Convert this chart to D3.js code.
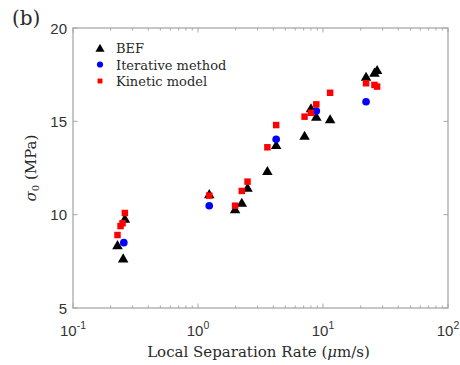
<!DOCTYPE html>
<html>
<head>
<meta charset="utf-8">
<script src="https://cdn.jsdelivr.net/npm/d3@7"></script>
<style>
  body { margin: 0; background: #fff; }
  svg { display: block; }
  .tick-label { font-family: "Liberation Sans", Arial, sans-serif; font-size: 15px; fill: #333; }
  .serif { font-family: "DejaVu Serif", "Liberation Serif", serif; fill: #2a2a2a; }
</style>
</head>
<body>
<svg id="chart"></svg>
<script>
// BEF (black triangles)
const befRate = [0.227, 0.252, 0.260, 1.23, 1.98, 2.24, 2.49, 3.59, 4.22, 7.12, 8.01, 8.84, 11.4, 22.1, 25.8, 27.1];
const befStress = [8.37, 7.66, 9.79, 11.1, 10.29, 10.64, 11.44, 12.34, 13.73, 14.23, 15.70, 15.25, 15.11, 17.39, 17.61, 17.75];

// Iterative method (blue circles)
const iterRate = [0.255, 1.23, 4.22, 8.84, 22.1];
const iterStress = [8.50, 10.48, 14.04, 15.55, 16.05];

// Kinetic model (red squares)
const kinRate = [0.227, 0.240, 0.249, 0.260, 1.23, 1.98, 2.24, 2.49, 3.59, 4.22, 7.12, 8.01, 8.84, 11.4, 22.1, 25.8, 27.1];
const kinStress = [8.91, 9.39, 9.54, 10.09, 11.02, 10.48, 11.27, 11.77, 13.61, 14.80, 15.25, 15.46, 15.91, 16.53, 17.04, 16.95, 16.86];

const xTicks = [0.1, 1, 10, 100];
const xTickExp = ['-1', '0', '1', '2'];
const yTicks = [5, 10, 15, 20];

const legendNames = ['BEF', 'Iterative method', 'Kinetic model'];

const width = 460, height = 365;
const margin = { top: 28, right: 12, bottom: 57, left: 73 };
const innerW = width - margin.left - margin.right;
const innerH = height - margin.top - margin.bottom;
const axisColor = '#a8a8a8';

const svg = d3.select('#chart').attr('width', width).attr('height', height);
const g = svg.append('g').attr('transform', `translate(${margin.left},${margin.top})`);

const x = d3.scaleLog().domain([0.1, 100]).range([0, innerW]);
const y = d3.scaleLinear().domain([5, 20]).range([innerH, 0]);

// frame
g.append('rect')
  .attr('width', innerW).attr('height', innerH)
  .attr('fill', 'none').attr('stroke', axisColor).attr('stroke-width', 1.3);

// x ticks (major + minor), bottom and top, inward
const minorX = [];
for (let d = 0.1; d < 100; d *= 10) {
  for (let k = 2; k <= 9; k++) minorX.push(+(d * k).toPrecision(3));
}
[innerH, 0].forEach(y0 => {
  const dir = y0 === 0 ? 1 : -1;
  g.append('g').selectAll('line.minor')
    .data(minorX).enter().append('line')
    .attr('x1', d => x(d)).attr('x2', d => x(d))
    .attr('y1', y0).attr('y2', y0 + dir * 2.5)
    .attr('stroke', axisColor);
  g.append('g').selectAll('line.major')
    .data(xTicks).enter().append('line')
    .attr('x1', d => x(d)).attr('x2', d => x(d))
    .attr('y1', y0).attr('y2', y0 + dir * 4.5)
    .attr('stroke', axisColor);
});

// y ticks left and right, inward
[0, innerW].forEach(x0 => {
  const dir = x0 === 0 ? 1 : -1;
  g.append('g').selectAll('line')
    .data(yTicks).enter().append('line')
    .attr('x1', x0).attr('x2', x0 + dir * 4.5)
    .attr('y1', d => y(d)).attr('y2', d => y(d))
    .attr('stroke', axisColor);
});

// x tick labels
const xl = g.append('g').selectAll('text')
  .data(xTicks).enter().append('text')
  .attr('class', 'tick-label')
  .attr('x', d => x(d))
  .attr('y', innerH + 28)
  .attr('text-anchor', 'middle');
xl.append('tspan').text('10');
xl.append('tspan')
  .attr('dy', -7).attr('font-size', 10.5)
  .text((d, i) => xTickExp[i]);

// y tick labels
g.append('g').selectAll('text')
  .data(yTicks).enter().append('text')
  .attr('class', 'tick-label')
  .attr('x', -6)
  .attr('y', d => y(d) + 5.5)
  .attr('text-anchor', 'end')
  .text(d => d);

// axis titles
const xt = g.append('text')
  .attr('class', 'serif')
  .attr('x', innerW / 2 - 2)
  .attr('y', innerH + 49)
  .attr('text-anchor', 'middle')
  .attr('font-size', 15);
xt.append('tspan').text('Local Separation Rate (');
xt.append('tspan').attr('font-style', 'italic').text('μ');
xt.append('tspan').text('m/s)');

const yt = g.append('text')
  .attr('class', 'serif')
  .attr('transform', `translate(-37,${innerH / 2}) rotate(-90)`)
  .attr('text-anchor', 'middle')
  .attr('font-size', 15);
yt.append('tspan').attr('font-style', 'italic').text('σ');
yt.append('tspan').attr('font-size', 10).attr('dy', 3).text('0');
yt.append('tspan').attr('dy', -3).text(' (MPa)');

// panel label
svg.append('text')
  .attr('class', 'serif')
  .attr('x', 12).attr('y', 25)
  .attr('font-size', 20)
  .text('(b)');

// markers
const tri = d3.symbol().type(d3.symbolTriangle).size(48);
const circ = d3.symbol().type(d3.symbolCircle).size(46);
const sq = d3.symbol().type(d3.symbolSquare).size(42);

g.append('g').selectAll('path')
  .data(befRate.map((r, i) => [r, befStress[i]]))
  .enter().append('path')
  .attr('d', tri)
  .attr('transform', d => `translate(${x(d[0])},${y(d[1]) + 1})`)
  .attr('fill', '#000');

g.append('g').selectAll('path')
  .data(iterRate.map((r, i) => [r, iterStress[i]]))
  .enter().append('path')
  .attr('d', circ)
  .attr('transform', d => `translate(${x(d[0])},${y(d[1])})`)
  .attr('fill', '#0000ff');

g.append('g').selectAll('path')
  .data(kinRate.map((r, i) => [r, kinStress[i]]))
  .enter().append('path')
  .attr('d', sq)
  .attr('transform', d => `translate(${x(d[0])},${y(d[1])})`)
  .attr('fill', '#ff0000');

// legend
const legend = g.append('g').attr('transform', 'translate(27,20)');
const legSym = [
  d3.symbol().type(d3.symbolTriangle).size(36),
  d3.symbol().type(d3.symbolCircle).size(30),
  d3.symbol().type(d3.symbolSquare).size(24)
];
const legCol = ['#000', '#0000ff', '#ff0000'];
legendNames.forEach((name, i) => {
  const row = legend.append('g').attr('transform', `translate(0,${i * 16.5})`);
  row.append('path')
    .attr('d', legSym[i])
    .attr('transform', `translate(0,${i === 0 ? 1 : 0})`)
    .attr('fill', legCol[i]);
  row.append('text')
    .attr('class', 'serif')
    .attr('x', 16).attr('y', 5)
    .attr('font-size', 13)
    .text(name);
});
</script>
</body>
</html>
